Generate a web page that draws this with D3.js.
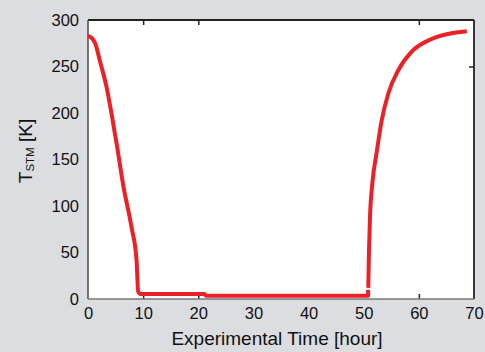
<!doctype html>
<html>
<head>
<meta charset="UTF-8">
<script src="https://cdnjs.cloudflare.com/ajax/libs/d3/7.8.5/d3.min.js"></script>
<style>
  body { margin: 0; background: #dcdde0; }
  text { font-family: "Liberation Sans", Arial, sans-serif; fill: #111; }
</style>
</head>
<body>
<svg id="chart" width="485" height="352"></svg>
<script>
// cool-down run: time [hour], T [K]
var coolTime = [0, 0.6, 1.3, 2.2, 3.4, 4.3, 5.3, 6.4, 7.9, 8.8, 9.1, 9.5, 21.1, 21.4, 50.8, 50.8];
var coolTemp = [283, 281, 275, 255, 227, 198, 163, 122, 77, 42, 8, 5.5, 5.5, 3.5, 3.5, 10];
// warm-up run
var warmTime = [50.83, 50.96, 51.14, 51.56, 52.36, 53.26, 54.46, 56.27, 58.7, 61.7, 65.3, 68.7];
var warmTemp = [12, 52, 88, 124, 158, 192, 221, 246, 266, 278, 285, 288];

var xTicks = [0, 10, 20, 30, 40, 50, 60, 70];
var yTicks = [0, 50, 100, 150, 200, 250, 300];
var topMarks = [10, 20, 60];
var bottomMarks = [10, 20, 60];
var rightMarks = [250];

var margin = {top: 20, right: 11, bottom: 53, left: 88};
var width = 485 - margin.left - margin.right,
    height = 352 - margin.top - margin.bottom;

var svg = d3.select("#chart");
var g = svg.append("g")
  .attr("transform", "translate(" + margin.left + "," + margin.top + ")");

var x = d3.scaleLinear().domain([0, 70]).range([0, width]);
var y = d3.scaleLinear().domain([0, 300]).range([height, 0]);

// plot area
g.append("rect")
  .attr("width", width)
  .attr("height", height)
  .attr("fill", "#fff");

// tick labels
var xAx = g.append("g")
  .attr("transform", "translate(0," + height + ")")
  .call(d3.axisBottom(x).tickValues(xTicks).tickSize(0).tickPadding(8));
xAx.select(".domain").remove();
xAx.selectAll("text").style("font-size", "16.5px").attr("fill", "#111");

var yAx = g.append("g")
  .call(d3.axisLeft(y).tickValues(yTicks).tickSize(0).tickPadding(9));
yAx.select(".domain").remove();
yAx.selectAll("text").style("font-size", "16.5px").attr("fill", "#111");

// inward tick marks
function marks(axis, vals, tr) {
  var a = g.append("g").attr("transform", tr)
    .call(axis.tickValues(vals).tickSize(-5).tickFormat(""));
  a.select(".domain").remove();
  a.selectAll("line").attr("stroke", "#222").attr("stroke-width", 1.5);
}
marks(d3.axisBottom(x), bottomMarks, "translate(0," + height + ")");
marks(d3.axisTop(x), topMarks, "translate(0,0)");
marks(d3.axisRight(y), rightMarks, "translate(" + width + ",0)");

// frame
g.append("line").attr("x1", 0).attr("x2", width).attr("y1", 0).attr("y2", 0)
  .attr("stroke", "#222").attr("stroke-width", 2);
g.append("line").attr("x1", width).attr("x2", width).attr("y1", 0).attr("y2", height)
  .attr("stroke", "#222").attr("stroke-width", 1.8);
g.append("line").attr("x1", 0).attr("x2", 0).attr("y1", 0).attr("y2", height)
  .attr("stroke", "#555").attr("stroke-width", 1.6);
g.append("line").attr("x1", 0).attr("x2", width).attr("y1", height).attr("y2", height)
  .attr("stroke", "#777").attr("stroke-width", 1.5);

// curves
var line = d3.line()
  .x(function(d) { return x(d[0]); })
  .y(function(d) { return y(d[1]); })
  .curve(d3.curveMonotoneX);

var cool = coolTime.map(function(t, i) { return [t, coolTemp[i]]; });
var warm = warmTime.map(function(t, i) { return [t, warmTemp[i]]; });

[cool, warm].forEach(function(series) {
  g.append("path")
    .datum(series)
    .attr("d", line)
    .attr("fill", "none")
    .attr("stroke", "#ec2128")
    .attr("stroke-width", 4)
    .attr("stroke-linejoin", "round");
});

// x label
svg.append("text")
  .attr("x", 277)
  .attr("y", 345)
  .attr("text-anchor", "middle")
  .style("font-size", "19px")
  .text("Experimental Time [hour]");

// y label
var yl = svg.append("text")
  .attr("text-anchor", "middle")
  .attr("transform", "translate(32,151) rotate(-90)")
  .style("font-size", "19px");
yl.append("tspan").text("T");
yl.append("tspan").attr("dy", 2).style("font-size", "11.5px").text("STM");
yl.append("tspan").attr("dy", -2).text(" [K]");
</script>
</body>
</html>
